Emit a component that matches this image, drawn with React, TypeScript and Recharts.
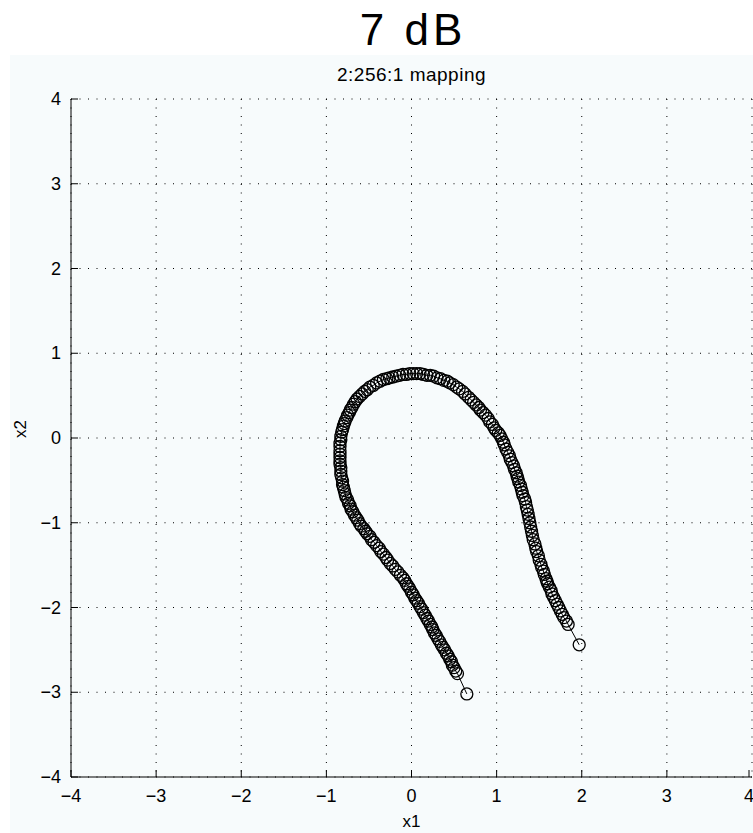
import React from 'react'
import { ScatterChart, Scatter, XAxis, YAxis, CartesianGrid } from 'recharts'

// 2:256:1 mapping curve (x1, x2 pairs in drawing order)
const curveX1 = [
  0.65, 0.54, 0.52, 0.50, 0.48, 0.47, 0.45, 0.43, 0.41, 0.39, 0.37, 0.35, 0.33, 0.31, 0.29, 0.27,
  0.25, 0.24, 0.22, 0.20, 0.18, 0.16, 0.14, 0.12, 0.10, 0.08, 0.06, 0.04, 0.02, 0.00, -0.02, -0.04,
  -0.06, -0.08, -0.10, -0.13, -0.16, -0.19, -0.22, -0.25, -0.28, -0.30, -0.33, -0.36, -0.38, -0.41,
  -0.44, -0.47, -0.49, -0.52, -0.54, -0.56, -0.59, -0.61, -0.63, -0.65, -0.67, -0.69, -0.71, -0.72,
  -0.74, -0.75, -0.77, -0.78, -0.79, -0.80, -0.81, -0.81, -0.82, -0.83, -0.83, -0.83, -0.84, -0.84,
  -0.84, -0.84, -0.84, -0.84, -0.84, -0.83, -0.83, -0.82, -0.81, -0.80, -0.79, -0.78, -0.76, -0.75,
  -0.73, -0.72, -0.70, -0.68, -0.66, -0.64, -0.61, -0.58, -0.55, -0.52, -0.49, -0.45, -0.41, -0.37,
  -0.33, -0.29, -0.26, -0.22, -0.18, -0.14, -0.10, -0.06, -0.02, 0.02, 0.06, 0.10, 0.14, 0.18, 0.22,
  0.26, 0.30, 0.34, 0.38, 0.42, 0.45, 0.49, 0.53, 0.56, 0.60, 0.63, 0.67, 0.70, 0.73, 0.76, 0.79,
  0.81, 0.84, 0.87, 0.90, 0.92, 0.95, 0.97, 0.99, 1.02, 1.04, 1.06, 1.08, 1.09, 1.11, 1.13, 1.15,
  1.16, 1.18, 1.20, 1.21, 1.23, 1.24, 1.25, 1.26, 1.28, 1.29, 1.30, 1.31, 1.33, 1.34, 1.35, 1.36,
  1.37, 1.38, 1.39, 1.40, 1.41, 1.42, 1.43, 1.45, 1.46, 1.47, 1.49, 1.50, 1.52, 1.53, 1.55, 1.56,
  1.58, 1.59, 1.60, 1.62, 1.64, 1.65, 1.67, 1.69, 1.71, 1.73, 1.75, 1.77, 1.79, 1.82, 1.84, 1.97,
]
const curveX2 = [
  -3.02, -2.78, -2.75, -2.71, -2.68, -2.64, -2.61, -2.57, -2.54, -2.50, -2.47, -2.44, -2.40, -2.37,
  -2.33, -2.30, -2.26, -2.23, -2.20, -2.16, -2.13, -2.09, -2.06, -2.02, -1.99, -1.95, -1.92, -1.89,
  -1.85, -1.82, -1.78, -1.75, -1.72, -1.68, -1.65, -1.62, -1.58, -1.55, -1.51, -1.48, -1.44, -1.41,
  -1.37, -1.34, -1.30, -1.27, -1.23, -1.20, -1.16, -1.13, -1.10, -1.07, -1.04, -1.01, -0.97, -0.94,
  -0.91, -0.87, -0.84, -0.80, -0.77, -0.73, -0.70, -0.66, -0.62, -0.58, -0.55, -0.51, -0.47, -0.43,
  -0.39, -0.35, -0.31, -0.27, -0.23, -0.19, -0.15, -0.10, -0.06, -0.02, 0.02, 0.07, 0.10, 0.14,
  0.17, 0.20, 0.24, 0.27, 0.30, 0.33, 0.36, 0.40, 0.43, 0.46, 0.49, 0.52, 0.55, 0.57, 0.60, 0.62,
  0.65, 0.67, 0.69, 0.70, 0.71, 0.72, 0.73, 0.74, 0.75, 0.75, 0.76, 0.76, 0.76, 0.76, 0.75, 0.74,
  0.74, 0.73, 0.71, 0.70, 0.68, 0.67, 0.65, 0.63, 0.60, 0.58, 0.55, 0.52, 0.48, 0.45, 0.42, 0.39,
  0.36, 0.33, 0.30, 0.27, 0.23, 0.19, 0.16, 0.12, 0.09, 0.06, 0.03, -0.01, -0.05, -0.08, -0.13,
  -0.17, -0.21, -0.25, -0.29, -0.33, -0.37, -0.41, -0.45, -0.48, -0.52, -0.56, -0.60, -0.64, -0.68,
  -0.72, -0.76, -0.81, -0.85, -0.90, -0.95, -1.00, -1.05, -1.10, -1.15, -1.20, -1.25, -1.30, -1.34,
  -1.39, -1.44, -1.49, -1.53, -1.57, -1.61, -1.66, -1.69, -1.72, -1.76, -1.80, -1.84, -1.88, -1.92,
  -1.96, -2.00, -2.04, -2.08, -2.12, -2.16, -2.20, -2.44,
]

const axisTicks = [-4, -3, -2, -1, 0, 1, 2, 3, 4]

const FONT = '"Liberation Sans", Arial, Helvetica, sans-serif'

const fmt = (v: number) => (v < 0 ? '\u2212' + Math.abs(v) : String(v))

const XTick = (props: any) => {
  const { x, y, payload } = props
  return (
    <g>
      <line x1={x} x2={x} y1={y} y2={y - 7} stroke="#000" />
      <text x={x} y={y + 25} textAnchor="middle" fontSize={18} fontFamily={FONT} fill="#000">
        {fmt(payload.value)}
      </text>
    </g>
  )
}

const YTick = (props: any) => {
  const { x, y, payload } = props
  return (
    <g>
      <line x1={x} x2={x + 7} y1={y} y2={y} stroke="#000" />
      <text x={x - 10} y={y + 6} textAnchor="end" fontSize={18} fontFamily={FONT} fill="#000">
        {fmt(payload.value)}
      </text>
    </g>
  )
}

const Ring = (props: any) => (
  <circle cx={props.cx} cy={props.cy} r={6} fill="none" stroke="#000" strokeWidth={1.3} />
)

export default function App() {
  const data = curveX1.map((x1, i) => ({ x1, x2: curveX2[i] }))

  return (
    <div style={{ position: 'absolute', left: 0, top: 0, width: 753, height: 833, background: '#fff', overflow: 'hidden' }}>
      <div style={{ position: 'absolute', left: 10, top: 55, width: 743, height: 778, background: '#f7fbfc' }} />
      <div
        style={{
          position: 'absolute', left: 0, width: 826, top: 8, textAlign: 'center',
          fontFamily: FONT, fontSize: 44, lineHeight: '44px', color: '#000', letterSpacing: 4,
        }}
      >
        7 dB
      </div>
      <div
        style={{
          position: 'absolute', left: 0, width: 823, top: 64, textAlign: 'center',
          fontFamily: FONT, fontSize: 19, lineHeight: '22px', color: '#000', letterSpacing: 0.5,
        }}
      >
        2:256:1 mapping
      </div>
      <div style={{ position: 'absolute', left: 0, top: 0 }}>
        <ScatterChart width={753} height={833} margin={{ top: 99, right: 1, bottom: 0, left: 0 }}>
          <CartesianGrid stroke="#000" strokeDasharray="1 7.5" />
          <XAxis
            type="number"
            dataKey="x1"
            domain={[-4, 4]}
            ticks={axisTicks}
            height={56}
            tickSize={0}
            tickMargin={0}
            tick={<XTick />}
            stroke="#000"
            allowDataOverflow
            label={{ value: 'x1', position: 'insideBottom', offset: 6, fontSize: 17, fontFamily: FONT, fill: '#000' }}
          />
          <YAxis
            type="number"
            dataKey="x2"
            domain={[-4, 4]}
            ticks={axisTicks}
            width={71}
            tickSize={0}
            tickMargin={0}
            tick={<YTick />}
            stroke="#000"
            allowDataOverflow
            label={{ value: 'x2', angle: -90, position: 'insideLeft', offset: 20, fontSize: 17, fontFamily: FONT, fill: '#000' }}
          />
          <Scatter
            data={data}
            line={{ stroke: '#000', strokeWidth: 1 }}
            lineJointType="linear"
            shape={<Ring />}
            isAnimationActive={false}
          />
        </ScatterChart>
      </div>
    </div>
  )
}
